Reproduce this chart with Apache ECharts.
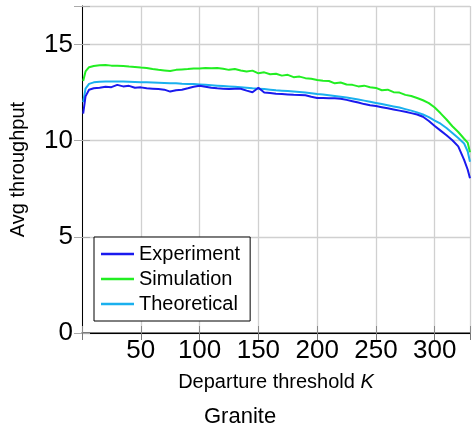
<!DOCTYPE html>
<html>
<head>
<meta charset="utf-8">
<script src="https://cdn.jsdelivr.net/npm/echarts@6/dist/echarts.min.js"></script>
<style>
  html, body { margin: 0; padding: 0; background: #fff; }
  #main { width: 473px; height: 428px; }
</style>
</head>
<body>
<div id="main"></div>
<script>
var xs = [1, 3, 6, 10, 15, 20, 25, 30, 35, 40, 45, 50, 55, 60, 65, 70, 75, 80, 85, 90,
  95, 100, 105, 110, 115, 120, 125, 130, 135, 140, 145, 150, 155, 160, 165, 170, 175, 180,
  185, 190, 195, 200, 205, 210, 215, 220, 225, 230, 235, 240, 245, 250, 255, 260, 265, 270,
  275, 280, 285, 290, 295, 300, 305, 310, 315, 320, 325, 328, 330];

var experiment = [11.4, 12.3, 12.65, 12.72, 12.75, 12.8, 12.78, 12.9, 12.82, 12.85, 12.75, 12.77,
  12.72, 12.7, 12.68, 12.65, 12.55, 12.62, 12.65, 12.72, 12.8, 12.85, 12.8, 12.75, 12.72, 12.7,
  12.68, 12.7, 12.7, 12.6, 12.52, 12.75, 12.5, 12.48, 12.44, 12.42, 12.4, 12.38, 12.37, 12.36,
  12.28, 12.22, 12.22, 12.21, 12.2, 12.18, 12.12, 12.05, 11.98, 11.9, 11.84, 11.8, 11.74, 11.68,
  11.62, 11.56, 11.5, 11.43, 11.36, 11.24, 11.02, 10.76, 10.52, 10.28, 10.02, 9.7, 9.0, 8.5, 8.05];

var simulation = [13.1, 13.6, 13.82, 13.88, 13.92, 13.93, 13.9, 13.9, 13.88, 13.85, 13.83, 13.8,
  13.78, 13.72, 13.68, 13.65, 13.62, 13.68, 13.7, 13.72, 13.75, 13.75, 13.78, 13.76, 13.78, 13.74,
  13.68, 13.72, 13.65, 13.6, 13.64, 13.5, 13.55, 13.45, 13.48, 13.38, 13.42, 13.3, 13.33, 13.25,
  13.22, 13.15, 13.12, 13.1, 12.98, 13.02, 12.92, 12.9, 12.82, 12.86, 12.78, 12.74, 12.62, 12.65,
  12.52, 12.5, 12.38, 12.32, 12.22, 12.1, 11.95, 11.72, 11.42, 11.1, 10.75, 10.45, 10.1, 9.9, 9.4];

var theoretical = [12.0, 12.7, 12.95, 13.03, 13.06, 13.07, 13.07, 13.07, 13.07, 13.06, 13.05, 13.04,
  13.03, 13.02, 13.01, 13.0, 12.99, 12.98, 12.96, 12.95, 12.94, 12.92, 12.9, 12.88, 12.86, 12.84,
  12.82, 12.8, 12.78, 12.75, 12.72, 12.7, 12.68, 12.65, 12.62, 12.6, 12.58, 12.56, 12.53, 12.5,
  12.47, 12.43, 12.4, 12.36, 12.32, 12.28, 12.24, 12.19, 12.14, 12.08, 12.02, 11.96, 11.9, 11.84,
  11.78, 11.72, 11.64, 11.56, 11.47, 11.36, 11.22, 11.04, 10.88, 10.66, 10.4, 10.14, 9.85, 9.45, 8.9];

var xTicks = [50, 100, 150, 200, 250, 300];
var yTicks = [0, 5, 10, 15];

function pairs(ys) {
  return xs.map(function(x, i) { return [x, ys[i]]; });
}

var font = 'Liberation Sans, Arial, Helvetica, sans-serif';
var chart = echarts.init(document.getElementById('main'));

chart.setOption({
  animation: false,
  textStyle: { fontFamily: font, color: '#000' },
  grid: { left: 82, top: 6, right: 0, bottom: 95 },
  legend: {
    orient: 'vertical',
    left: 94,
    top: 237,
    backgroundColor: '#fff',
    borderColor: '#000',
    borderWidth: 1,
    borderRadius: 0,
    padding: [7, 10, 7, 7],
    icon: 'rect',
    itemWidth: 33,
    itemHeight: 2.5,
    itemGap: 5,
    itemTextGap: 6,
    textStyle: { fontFamily: font, fontSize: 20, color: '#000', lineHeight: 20 },
    data: ['Experiment', 'Simulation', 'Theoretical']
  },
  graphic: [{
    type: 'text',
    left: 204,
    top: 406,
    style: { text: 'Granite', font: '22px ' + font, fill: '#000' }
  }],
  xAxis: [{
    type: 'value',
    min: 0,
    max: 330,
    interval: 50,
    name: 'Departure threshold {i|K}',
    nameLocation: 'middle',
    nameGap: 39,
    nameTextStyle: {
      fontFamily: font, fontSize: 20, color: '#000',
      rich: { i: { fontStyle: 'italic', fontFamily: font, fontSize: 20, color: '#000' } }
    },
    axisLine: { onZero: false, lineStyle: { color: '#555', width: 1.5 } },
    axisTick: { inside: true, length: 7, lineStyle: { color: '#888' } },
    axisLabel: {
      fontSize: 26, color: '#000', margin: 5,
      formatter: function(v) { return xTicks.indexOf(v) >= 0 ? String(v) : ''; }
    },
    splitLine: { show: true, lineStyle: { color: '#d0d0d0', width: 1.3 } }
  }, {
    type: 'value',
    position: 'top',
    min: 0,
    max: 330,
    interval: 50,
    axisLine: { show: true, lineStyle: { color: '#000', width: 1 } },
    axisTick: { show: true, inside: true, length: 7, lineStyle: { color: '#777' } },
    axisLabel: { show: false },
    splitLine: { show: false }
  }],
  yAxis: [{
    type: 'value',
    min: 0,
    max: 17,
    interval: 5,
    name: 'Avg throughput',
    nameLocation: 'middle',
    nameGap: 54,
    nameTextStyle: { fontFamily: font, fontSize: 20, color: '#000' },
    axisLine: { show: true, onZero: false, lineStyle: { color: '#000', width: 1 } },
    axisTick: { show: true, inside: true, length: 8, lineStyle: { color: '#aaa' } },
    axisLabel: {
      fontSize: 26, color: '#000', margin: 9,
      formatter: function(v) { return yTicks.indexOf(v) >= 0 ? String(v) : ''; }
    },
    splitLine: { show: true, lineStyle: { color: '#d0d0d0', width: 1.3 } }
  }, {
    type: 'value',
    position: 'right',
    min: 0,
    max: 17,
    interval: 5,
    axisLine: { show: false },
    axisTick: { show: true, inside: true, length: 8, lineStyle: { color: '#aaa' } },
    axisLabel: { show: false },
    splitLine: { show: false }
  }],
  series: [{
    name: 'Experiment',
    type: 'line',
    data: pairs(experiment),
    symbol: 'none',
    color: '#1a1aee',
    lineStyle: { width: 2, color: '#1a1aee' },
    z: 4
  }, {
    name: 'Simulation',
    type: 'line',
    data: pairs(simulation),
    symbol: 'none',
    color: '#22ee22',
    lineStyle: { width: 2, color: '#22ee22' },
    z: 3
  }, {
    name: 'Theoretical',
    type: 'line',
    data: pairs(theoretical),
    symbol: 'none',
    color: '#1ab0ee',
    lineStyle: { width: 2, color: '#1ab0ee' },
    z: 2
  }]
});
</script>
</body>
</html>
